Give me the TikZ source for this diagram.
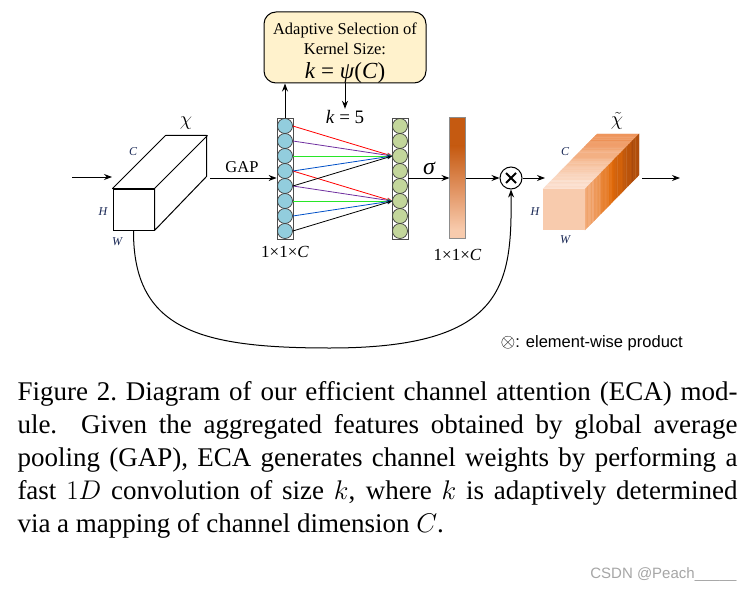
\RequirePackage{fix-cm}
\documentclass[tikz,border=0pt]{standalone}
\usepackage{fontspec}
\setmainfont{Liberation Serif}
\setsansfont{Liberation Sans}
\usetikzlibrary{arrows.meta,positioning}

\definecolor{chanBlue}{RGB}{146,205,221}
\definecolor{chanGreen}{RGB}{195,214,155}
\definecolor{boxYellow}{RGB}{255,242,204}
\definecolor{labelNavy}{RGB}{25,40,85}
\definecolor{convRed}{RGB}{255,0,0}
\definecolor{convPurple}{RGB}{112,48,160}
\definecolor{convGreen}{RGB}{40,230,40}
\definecolor{convBlue}{RGB}{0,80,200}
\definecolor{barDark}{RGB}{197,90,17}
\definecolor{barMid}{RGB}{224,145,95}
\definecolor{barLight}{RGB}{248,203,173}
\definecolor{cubeFront}{RGB}{248,203,173}
\definecolor{topFront}{RGB}{252,228,214}
\definecolor{topMid}{RGB}{246,190,152}
\definecolor{topBack}{RGB}{236,138,76}
\definecolor{rightFront}{RGB}{244,177,131}
\definecolor{rightMid}{RGB}{226,107,10}
\definecolor{rightBack}{RGB}{160,68,12}

\begin{document}
\begin{tikzpicture}[x=1pt,y=-1pt,line width=1pt,
    arr/.style={-{Stealth[length=8pt,width=6pt]}},
    convln/.style={line width=0.8pt,-{Stealth[length=5pt,width=4pt]}},
    colbox/.style={rectangle,draw=black!70,fill=white,line width=0.8pt,
        minimum width=16pt,minimum height=121pt,inner sep=0pt},
    chan/.style={circle,draw=black!75,fill=#1,line width=0.7pt,
        minimum size=15pt,inner sep=0pt},
    dimlbl/.style={font=\fontsize{12}{12}\selectfont\itshape,text=labelNavy,inner sep=1pt},
    sizelbl/.style={font=\fontsize{17}{17}\selectfont,inner sep=1pt},
    chslice/.style={fill=#1,draw=#1,line width=0.3pt}]
    \fill[white] (0,0) rectangle (752,591);
    \useasboundingbox (0,0) rectangle (752,591);

    % input feature
    \node[draw,fill=white,minimum width=41pt,minimum height=41pt,inner sep=0pt] (xin) at (133.5,209.5) {};
    \draw[fill=white,line join=round] (xin.north west) -- ++(53,-53) -- ++(41,0) -- ++(0,41) -- (xin.south east) -- (xin.north east) -- cycle;
    \draw (xin.north east) -- ++(53,-53);
    \node[font=\fontsize{20}{20}\selectfont] (chiin) at (186,123) {$\chi$};
    \node[dimlbl] (cin) at (133,152) {C};
    \node[dimlbl] (hin) at (103,212) {H};
    \node[dimlbl] (win) at (117,242) {W};
    \coordinate (inA) at (72,177);
    \coordinate (inB) at (112,177);
    \draw[arr] (inA) -- (inB);

    % GAP
    \node[colbox] (bcol) at (285,178.5) {};
    \foreach \i in {1,...,8}
        \node[chan=chanBlue] (b\i) at (285,{111+15*\i}) {};
    \coordinate (gapA) at (210,178);
    \draw[arr] (gapA) -- (bcol.west |- gapA);
    \node[font=\fontsize{16.5}{16.5}\selectfont] (gap) at (242,167) {GAP};
    \node[sizelbl,below=5pt of bcol] (bdim) {1×1×\textit{C}};

    % kernel size
    \node[draw,fill=boxYellow,rounded corners=12pt,minimum width=162pt,minimum height=71pt] (sel) at (345,47.5) {};
    \node[align=center,inner sep=0pt,font=\fontsize{16.5}{20}\selectfont] (seltext) at (345,53)
        {Adaptive Selection of\\Kernel Size:\\[4pt]{\fontsize{23}{24}\selectfont\textit{k} = \textit{ψ}(\textit{C})}};
    \draw[arr] (bcol.north) -- (bcol.north |- sel.south);
    \node[font=\fontsize{19}{19}\selectfont,inner sep=1pt] (kfive) at (345,117) {\textit{k} = 5};
    \draw[arr] (sel.south) -- (kfive.north);

    % 1D conv
    \node[colbox] (gcol) at (400,178.5) {};
    \foreach \i in {1,...,8}
        \node[chan=chanGreen] (g\i) at (400,{111+15*\i}) {};
    \foreach \s/\c in {1/convRed,2/convPurple,3/convGreen,4/convBlue,5/black}{
        \pgfmathtruncatemacro\t{\s+3}
        \draw[convln,\c] (b\s.east) -- (g3.west);
        \draw[convln,\c] (b\t.east) -- (g6.west);
    }

    % weights
    \node[minimum width=15pt,minimum height=120pt,inner sep=0pt] (bar) at (457.5,178) {};
    \coordinate (barK) at (457.5,146);
    \coordinate (barL) at (457.5,230);
    \fill[barDark] (bar.north west) rectangle (bar.east |- barK);
    \shade[top color=barDark,bottom color=barLight,middle color=barMid] (bar.west |- barK) rectangle (bar.east |- barL);
    \fill[barLight] (bar.west |- barL) rectangle (bar.south east);
    \draw[black!45,line width=0.5pt] (bar.north west) rectangle (bar.south east);
    \draw[arr] (gcol.east |- bar.west) -- (bar.west);
    \node[font=\fontsize{24}{24}\selectfont\itshape] (sig) at (429,168) {σ};
    \node[sizelbl,below=9pt of bar] (wdim) {1×1×\textit{C}};

    \node[circle,draw,line width=1pt,minimum size=22pt,inner sep=0pt,
        path picture={\draw[line width=2pt]
            ([shift={(-5pt,-5pt)}]path picture bounding box.center) -- ([shift={(5pt,5pt)}]path picture bounding box.center)
            ([shift={(-5pt,5pt)}]path picture bounding box.center) -- ([shift={(5pt,-5pt)}]path picture bounding box.center);}] (mul) at (511,178) {};
    \draw[arr] (bar.east) -- (mul.west);
    \coordinate (outIn) at (545,178);
    \draw[arr] (mul.east) -- (outIn);

    % skip connection
    \coordinate (skipbot) at (330,348);
    \draw[arr] (xin.south) .. controls (133,330) and (200,348) .. (skipbot)
        .. controls (505,348) and (512,285) .. (mul.south);

    % output feature
    \pgfmathsetseed{11}
    \foreach \k in {0,...,29}{
        \pgfmathsetmacro\ta{\k/30}
        \pgfmathsetmacro\tb{(\k+1)/30}
        \pgfmathsetmacro\tt{max(0,min(1,\ta+0.16*rnd-0.08))}
        \pgfmathtruncatemacro\pb{max(0,200*\tt-100)}
        \pgfmathtruncatemacro\pm{min(100,200*\tt)}
        \fill[chslice={topBack!\pb!topMid!\pm!topFront}]
            ({543+54*\ta},{189-55*\ta}) -- ({585+54*\ta},{189-55*\ta})
            -- ({585+54*\tb},{189-55*\tb}) -- ({543+54*\tb},{189-55*\tb}) -- cycle;
        \fill[chslice={rightBack!\pb!rightMid!\pm!rightFront}]
            ({585+54*\ta},{189-55*\ta}) -- ({585+54*\tb},{189-55*\tb})
            -- ({585+54*\tb},{230-55*\tb}) -- ({585+54*\ta},{230-55*\ta}) -- cycle;
    }
    \node[fill=cubeFront,minimum width=42pt,minimum height=41pt,inner sep=0pt] (xout) at (564,209.5) {};
    \node[font=\fontsize{20}{20}\selectfont,inner sep=0pt] (chiout) at (617,121) {$\tilde{\chi}$};
    \node[dimlbl] (cout) at (565,152) {C};
    \node[dimlbl] (hout) at (535,212) {H};
    \node[dimlbl] (wout) at (565,240) {W};
    \coordinate (outA) at (642,178);
    \coordinate (outB) at (680,178);
    \draw[arr] (outA) -- (outB);

    \node[anchor=west,inner sep=0pt,font=\sffamily\fontsize{16.5}{16.5}\selectfont] (legend) at (500,343)
        {{\fontsize{19}{19}\selectfont$\otimes$}: element-wise product};

    % caption
    \node[anchor=north west,inner sep=0pt,text width=720pt,align=justify,
        font=\fontsize{27}{33}\selectfont] (caption) at (17,381)
        {\hyphenpenalty=10000 Figure 2.\ Diagram of our efficient channel attention (ECA) mod-\linebreak
        ule.  Given the aggregated features obtained by global average\linebreak
        pooling (GAP), ECA generates channel weights by performing a\linebreak
        fast $1D$ convolution of size $k$, where $k$ is adaptively determined\linebreak
        via a mapping of channel dimension $C$.};
    \node[anchor=east,inner sep=0pt,text=black!35,font=\sffamily\fontsize{15}{15}\selectfont] (mark) at (737,575)
        {CSDN @Peach\_\_\_\_\_};
\end{tikzpicture}
\end{document}
